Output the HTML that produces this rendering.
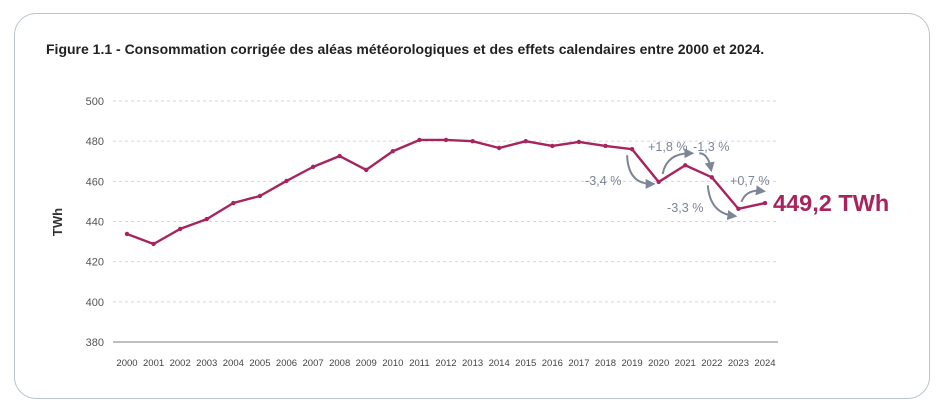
<!DOCTYPE html>
<html><head><meta charset="utf-8"><style>
body{margin:0;background:#fff;width:945px;height:419px;overflow:hidden;font-family:"Liberation Sans",sans-serif}
#card{position:absolute;left:14px;top:13px;width:916px;height:386px;border:1.5px solid #b9c4cc;border-radius:22px;box-sizing:border-box}
#title{position:absolute;left:46px;top:41px;font-size:14px;font-weight:bold;color:#222}
svg{position:absolute;left:0;top:0}
</style></head><body>
<div id="card"></div>
<div id="title">Figure 1.1 - Consommation corrigée des aléas météorologiques et des effets calendaires entre 2000 et 2024.</div>
<svg id="chart" width="945" height="419">
<defs><marker id="ah" viewBox="0 0 10 10" refX="6" refY="5" markerWidth="5" markerHeight="5" orient="auto"><path d="M0,0L10,5L0,10z" fill="#7d8596"/></marker></defs>
</svg>
<script>
const years=[2000,2001,2002,2003,2004,2005,2006,2007,2008,2009,2010,2011,2012,2013,2014,2015,2016,2017,2018,2019,2020,2021,2022,2023,2024];
const values=[433.8,428.8,436.3,441.2,449.2,452.7,460.2,467.2,472.6,465.7,475,480.6,480.6,480,476.6,480,477.6,479.6,477.6,476,459.7,468,462,446.3,449.2];
const yTicks=[380,400,420,440,460,480,500];
const annotations=[{t:"-3,4 %",x:585,y:185},{t:"+1,8 %",x:648,y:151},{t:"-1,3 %",x:693,y:151},{t:"-3,3 %",x:667,y:212},{t:"+0,7 %",x:730,y:185}];
const svg=document.getElementById('chart');const NS='http://www.w3.org/2000/svg';
const X=i=>127+i*(765-127)/(years.length-1);
const Y=v=>342-(v-380)*(241/120);
function mk(t,a,name){const e=document.createElementNS(NS,t);for(const k in a)e.setAttribute(k,a[k]);


svg.appendChild(e);return e;}
yTicks.forEach(v=>{
if(v>380)mk('line',{x1:113,x2:778,y1:Y(v),y2:Y(v),stroke:'#d4d6da','stroke-dasharray':'3,3'},'grid-line');
const t=mk('text',{x:104,y:Y(v)+4,'text-anchor':'end','font-size':11,fill:'#555'},'y-tick-label');t.textContent=v;});
mk('line',{x1:113,x2:778,y1:Y(380),y2:Y(380),stroke:'#999','stroke-width':1.3},'x-axis');
years.forEach((y,i)=>{const t=mk('text',{x:X(i),y:366,'text-anchor':'middle','font-size':9.5,fill:'#444'},'x-tick-label');t.textContent=y;});
const yl=mk('text',{x:62,y:222,'text-anchor':'middle','font-size':13,'font-weight':'bold',fill:'#333',transform:'rotate(-90 62 222)'},'y-axis-title');yl.textContent='TWh';
mk('polyline',{points:values.map((v,i)=>X(i)+','+Y(v)).join(' '),fill:'none',stroke:'#a8245f','stroke-width':2.4,'stroke-linejoin':'round'},'consumption-line');
values.forEach((v,i)=>mk('circle',{cx:X(i),cy:Y(v),r:2.2,fill:'#a8245f'},'data-point'));
annotations.forEach(a=>{const t=mk('text',{x:a.x,y:a.y,'font-size':12.6,fill:'#7d8596'},'change-label');t.textContent=a.t;});
const n=values.length;
[[X(19)-5,Y(values[19])+6,X(19)-4,Y(values[20])+2,X(20)-7,Y(values[20])+2],
 [X(20)+4,Y(values[20])-8,X(20)+8,Y(values[21])-12,X(21)+5,Y(values[21])-12],
 [X(21)+14,Y(values[21])-12,X(22)-4,Y(values[21])-12,X(22)-1,Y(values[22])-9],
 [X(22)-4,Y(values[22])+8,X(22)-2,Y(values[23])+4,X(23)-5,Y(values[23])+7],
 [X(23)+3,Y(values[23])-7,X(23)+8,Y(values[24])-14,X(24)-3,Y(values[24])-12]
].forEach(p=>mk('path',{d:`M${p[0]},${p[1]} Q${p[2]},${p[3]} ${p[4]},${p[5]}`,fill:'none',stroke:'#7d8596','stroke-width':2,'marker-end':'url(#ah)'},'change-arrow'));
const lt=mk('text',{x:X(n-1)+8,y:Y(values[n-1])+8,'font-size':23.5,'font-weight':'bold',fill:'#a8245f'},'final-value-label');
lt.textContent=values[n-1].toFixed(1).replace('.',',')+' TWh';
</script>
</body></html>
